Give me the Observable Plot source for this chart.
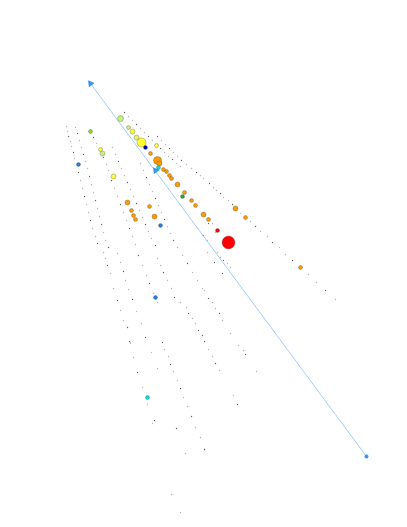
<!DOCTYPE html>
<html><head><meta charset="utf-8">
<script src="https://cdn.jsdelivr.net/npm/d3@7"></script>
<script src="https://cdn.jsdelivr.net/npm/@observablehq/plot@0.6"></script>
<style>body{margin:0;background:#fff}</style>
</head><body><div id="chart"></div>
<script>
// Colored markers (x, y in chart units, radius, category)
const markX = [120,128,132,136,141,145,156,150,157,159,158,163,166,169,171,177,184,182,191,195,203,208,235,245,217,228,102,113,127,131,133,135,149,154,160,90,100,78,155,147,300];
const markY = [118,127,131,137,142,147,145,153,160,163,167,169,171,175,178,184,192,196,200,205,214,219,208,217,230,242,153,176,202,210,215,219,206,216,225,131,149,164,297,397,267];
const markR = [3,2,2.5,2.5,4.5,2,2,2,4,2.5,2,2,2,2,2,2.5,2,2,2,2,2.5,2,2.5,2,2,6.5,2.5,2.5,2.5,2,2,2,2,2.5,2,2,2,2,2,2,2];
const markCat = ["lightgreen","lightgreen","yellow","paleyellow","yellow","darkblue","yellow","orange","orange","orange","cyan","orange","orange","orange","orange","orange","orange","green","orange","orange","orange","orange","orange","orange","red","red","lightgreen","yellow","orange","orange","orange","orange","orange","orange","blue","yellowgreen","yellow","blue","blue","cyan","orange"];
const catNames = ["lightgreen","paleyellow","yellow","yellowgreen","orange","red","blue","darkblue","cyan","green"];
const catColors = ["#c8f080","#e6f560","#ffff33","#88dd22","#ff9900","#ff0000","#2080e0","#0000bb","#00e0e0","#22aa22"];

// Faint trail points
const trailX = [124,128,132,136,140,144,148,152,156,160,164,168,172,176,180,
157,161,165,169,173,177,181,186,191,196,200,203,209,213,216,220,223,228,232,240,250,255,260,267,272,279,285,292,308,316,325,335,
205,208,212,215,203,207,207,214,217,220,223,227,230,222,202,204,208,212,215,219,222,230,202,
66,67,68,70,71,73,74,76,78,80,82,84,86,88,90,92,95,97,103,105,107,110,113,117,120,123,127,130,133,137,142,147,154,152,
75,77,79,81,83,85,87,89,91,93,95,97,99,101,103,105,108,117,120,123,125,128,132,136,141,145,151,157,
93,96,99,103,106,108,111,114,117,120,123,126,129,132,135,138,142,146,149,153,157,162,164,168,170,173,177,180,183,187,191,195,200,204,
112,115,118,121,124,127,130,133,136,139,142,145,148,151,155,157,160,163,167,171,174,180,186,188,192,195,198,
140,143,146,149,152,155,158,161,164,167,170,173,177,182,187,192,197,
204,208,212,215,219,233,237,238,243,245,256,185,176,171,180,129,130,200,204];
const trailY = [112,116,120,124,128,132,136,140,144,148,152,156,159,163,166,
136,140,144,148,152,156,160,164,168,172,175,178,183,187,190,193,197,200,204,213,221,226,231,236,242,247,254,260,274,282,290,299,
215,223,223,232,235,240,252,262,252,257,260,263,267,273,288,290,298,302,308,313,320,333,335,
126,131,136,141,146,152,158,164,172,180,188,196,204,212,220,228,236,243,252,258,265,273,288,300,310,320,327,342,357,372,387,404,420,423,
127,133,140,147,154,161,168,176,184,192,200,208,216,224,232,240,247,253,262,271,280,289,299,311,323,337,352,368,
137,143,150,157,164,170,180,188,196,204,212,220,228,236,244,255,265,275,283,293,302,342,349,356,364,371,380,388,397,406,416,427,437,449,
147,154,161,168,175,182,189,196,203,210,217,224,231,238,245,258,265,272,280,288,297,302,307,313,318,323,330,
163,170,177,184,191,198,205,212,219,226,233,240,247,255,263,272,280,
341,349,356,363,370,395,404,345,350,354,371,453,428,494,512,341,343,437,449];

// Direction arrow
const arrowFrom = {x: 366, y: 456};
const arrowTo = {x: 90, y: 83};
const arrowMid = {x: 155, y: 170};

const marks = markX.map((x, i) => ({x, y: markY[i], r: markR[i], cat: markCat[i]}));
const trail = trailX.map((x, i) => ({x, y: trailY[i], i}));
const angle = Math.atan2(arrowTo.x - arrowFrom.x, -(arrowTo.y - arrowFrom.y)) * 180 / Math.PI;

const chart = Plot.plot({
  width: 407, height: 527,
  margin: 0,
  x: {domain: [0, 407], axis: null},
  y: {domain: [527, 0], axis: null},
  r: {type: "identity"},
  color: {domain: catNames, range: catColors},
  marks: [
    Plot.dot(trail, {x: "x", y: "y", r: 0.7, fill: d => d.i % 3 === 0 ? "#666" : "#b8b8b8", stroke: null}),
    Plot.link([{x1: arrowFrom.x, y1: arrowFrom.y, x2: arrowTo.x, y2: arrowTo.y}], {x1: "x1", y1: "y1", x2: "x2", y2: "y2", stroke: "#9fcfff", strokeWidth: 1}),
    Plot.dot([arrowTo, arrowMid], {x: "x", y: "y", symbol: "triangle", r: 2.6, fill: "#3a94f0", rotate: angle}),
    Plot.dot([arrowFrom], {x: "x", y: "y", r: 2, fill: "#3a94f0"}),
    Plot.dot(marks, {x: "x", y: "y", r: "r", fill: "cat", stroke: "#555", strokeWidth: 0.5, strokeOpacity: 0.7})
  ]
});
document.getElementById("chart").append(chart);
</script>
</body></html>
